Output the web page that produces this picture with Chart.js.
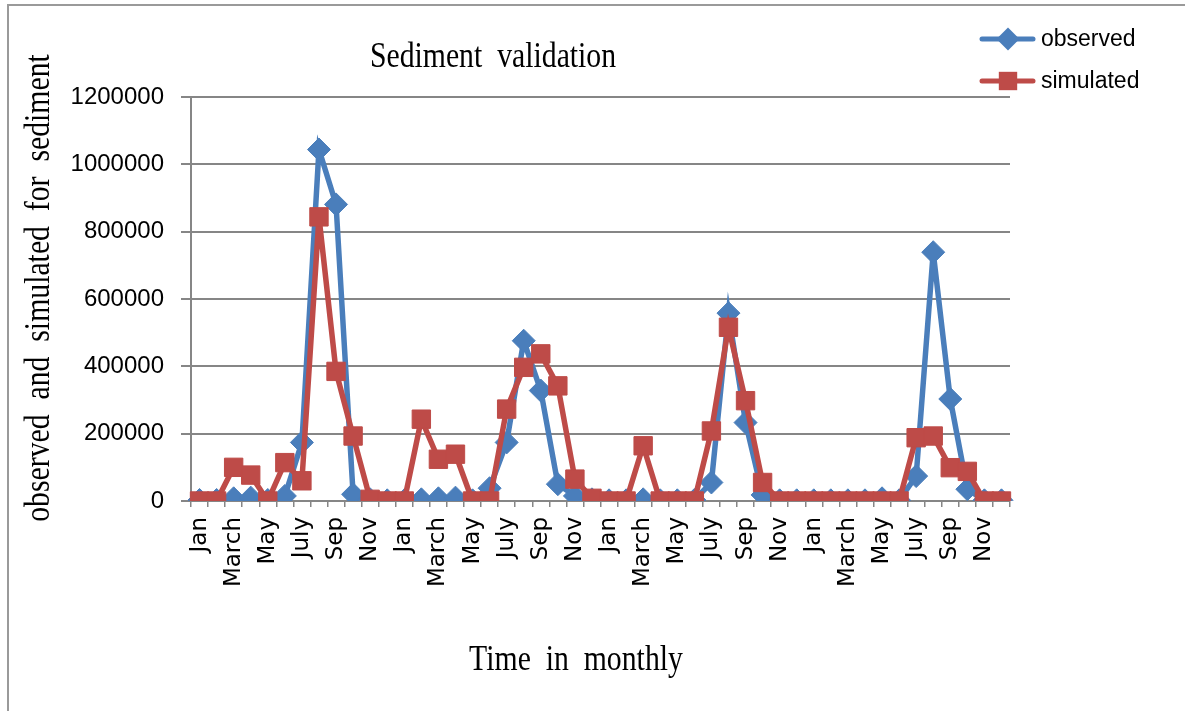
<!DOCTYPE html>
<html>
<head>
<meta charset="utf-8">
<script src="https://cdn.jsdelivr.net/npm/chart.js@4/dist/chart.umd.min.js"></script>
<style>
  body { margin: 0; background: #fff; }
  #wrap { position: relative; width: 1185px; height: 711px; overflow: hidden; }
  #frame { position: absolute; left: 7px; top: 4px; width: 1200px; height: 720px; border: 2px solid #9a9a9a; }
  #chart { position: absolute; left: 0; top: 0; }
</style>
</head>
<body>
<div id="wrap">
  <div id="frame"></div>
  <canvas id="chart" width="1185" height="711"></canvas>
</div>
<script>
// month names, 4 years of monthly values
const yearMonths = ['Jan', 'Feb', 'March', 'April', 'May', 'June', 'July', 'Aug', 'Sep', 'Oct', 'Nov', 'Dec'];
const months = [...yearMonths, ...yearMonths, ...yearMonths, ...yearMonths];

const observed = [
  3000, 3000, 8000, 10000, 3000, 15000, 174000, 1044000, 881000, 20000, 5000, 2000,
  2000, 5000, 8000, 10000, 2000, 38000, 174000, 476000, 328000, 50000, 15000, 5000,
  2000, 2000, 5000, 2000, 2000, 3000, 55000, 558000, 233000, 18000, 2000, 2000,
  2000, 2000, 2000, 2000, 8000, 2000, 74000, 739000, 303000, 35000, 2000, 2000
];
const simulated = [
  0, 0, 100000, 77000, 0, 114000, 60000, 844000, 385000, 193000, 5000, 0,
  0, 243000, 124000, 139000, 0, 0, 273000, 397000, 437000, 342000, 65000, 8000,
  0, 0, 164000, 0, 0, 0, 208000, 516000, 298000, 55000, 0, 0,
  0, 0, 0, 0, 0, 0, 188000, 193000, 99000, 88000, 0, 0
];

const yTicks = [0, 200000, 400000, 600000, 800000, 1000000, 1200000];

const chartTitle = 'Sediment  validation';
const xTitle = 'Time  in  monthly';
const yTitle = 'observed  and  simulated  for  sediment';

const blue = '#4a7ebb';
const red = '#be4b48';
const gridGray = '#868686';

function drawMarker(ctx, style, x, y, r, color) {
  ctx.fillStyle = color;
  ctx.beginPath();
  if (style === 'rectRot') {
    ctx.moveTo(x - r, y);
    ctx.lineTo(x, y - r);
    ctx.lineTo(x + r, y);
    ctx.lineTo(x, y + r);
    ctx.closePath();
  } else {
    const s = r * Math.SQRT1_2;
    ctx.rect(x - s, y - s, 2 * s, 2 * s);
  }
  ctx.fill();
}

// serif text, a bit narrower than normal like the original
function serifText(ctx, text, x, y, angle) {
  ctx.save();
  ctx.translate(x, y);
  ctx.rotate(angle);
  ctx.scale(0.85, 1);
  ctx.font = '35px "Liberation Serif"';
  ctx.fillText(text, 0, 0);
  ctx.restore();
}

// titles and Excel-like legend (line + marker)
const decorations = {
  id: 'decorations',
  afterDraw(chart) {
    const ctx = chart.ctx;
    ctx.save();
    ctx.fillStyle = '#000';
    ctx.textAlign = 'center';
    ctx.textBaseline = 'middle';
    serifText(ctx, chartTitle, 493, 58, 0);
    serifText(ctx, xTitle, 576, 661, 0);
    serifText(ctx, yTitle, 40, 288, -Math.PI / 2);

    const rows = [39, 81];
    chart.data.datasets.forEach((ds, i) => {
      const y = rows[i];
      ctx.strokeStyle = ds.borderColor;
      ctx.lineWidth = 5;
      ctx.lineCap = 'round';
      ctx.beginPath();
      ctx.moveTo(982, y);
      ctx.lineTo(1033, y);
      ctx.stroke();
      drawMarker(ctx, ds.pointStyle, 1008, y, ds.pointRadius, ds.borderColor);
      ctx.fillStyle = '#000';
      ctx.textAlign = 'left';
      ctx.font = '23px "Liberation Sans"';
      ctx.fillText(ds.label, 1041, y + 1);
    });
    ctx.restore();
  }
};

new Chart(document.getElementById('chart'), {
  type: 'line',
  data: {
    labels: months,
    datasets: [
      {
        label: 'observed',
        data: observed,
        borderColor: blue,
        backgroundColor: blue,
        borderWidth: 5.5,
        pointStyle: 'rectRot',
        pointRadius: 11.5,
        pointBorderWidth: 1,
        pointBorderColor: blue,
        pointBackgroundColor: blue,
        tension: 0,
        order: 2
      },
      {
        label: 'simulated',
        data: simulated,
        borderColor: red,
        backgroundColor: red,
        borderWidth: 5.5,
        pointStyle: 'rect',
        pointRadius: 13,
        pointBorderWidth: 1,
        pointBorderColor: red,
        pointBackgroundColor: red,
        tension: 0,
        order: 1
      }
    ]
  },
  options: {
    responsive: false,
    animation: false,
    layout: { padding: { left: 0, top: 97, right: 175, bottom: 0 } },
    plugins: {
      legend: { display: false },
      title: { display: false },
      tooltip: { enabled: false }
    },
    scales: {
      x: {
        offset: true,
        afterFit(scale) { scale.height = 210; },
        grid: {
          offset: true,
          drawOnChartArea: false,
          drawTicks: true,
          tickLength: 6,
          color: gridGray,
          lineWidth: 1.5
        },
        border: { display: true, color: gridGray, width: 2 },
        ticks: {
          autoSkip: false,
          minRotation: 90,
          maxRotation: 90,
          padding: 10,
          color: '#000',
          font: { family: '"DejaVu Sans"', size: 23 },
          callback(value, index) {
            return index % 2 === 0 ? this.getLabelForValue(value) : '';
          }
        }
      },
      y: {
        min: 0,
        max: 1200000,
        afterFit(scale) { scale.width = 191; },
        afterBuildTicks(scale) { scale.ticks = yTicks.map(v => ({ value: v })); },
        grid: { color: gridGray, lineWidth: 2, tickLength: 10 },
        border: { display: true, color: gridGray, width: 2 },
        ticks: {
          padding: 17,
          color: '#000',
          font: { family: '"Liberation Sans"', size: 24 },
          callback(value) { return String(value); }
        }
      }
    }
  },
  plugins: [decorations]
});
</script>
</body>
</html>
